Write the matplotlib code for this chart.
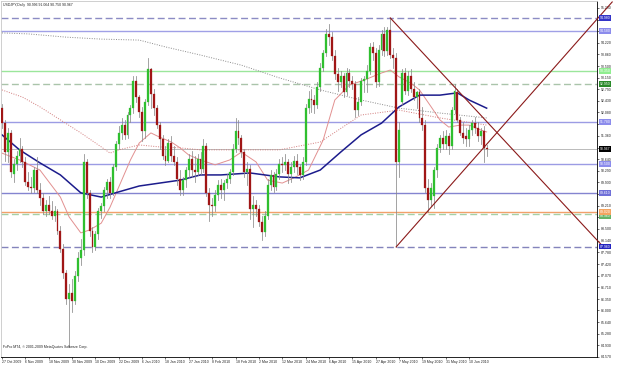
import matplotlib
matplotlib.use("Agg")
import matplotlib.pyplot as plt
import matplotlib.transforms as mtransforms
from matplotlib.patches import Rectangle

plt.rcParams['font.family'] = ['Liberation Sans', 'DejaVu Sans']

# daily bars, 27 Oct 2009 .. 18 Jun 2010 (one entry per bar)
opens = [92.20, 91.75, 90.85, 91.45, 90.20, 90.50, 90.75, 90.95, 90.55, 89.95,
         89.80, 89.75, 90.30, 89.70, 89.45, 89.05, 89.25, 89.05, 88.90, 89.05,
         88.45, 87.90, 87.15, 86.35, 86.55, 86.30, 87.05, 87.60, 87.85, 90.55,
         89.60, 88.45, 87.95, 88.35, 89.05, 89.20, 89.70, 89.95, 89.60, 90.40,
         91.10, 91.45, 91.70, 91.40, 92.00, 92.20, 93.05, 92.55, 92.10, 91.50,
         92.40, 93.40, 92.65, 92.20, 91.70, 91.25, 90.75, 90.60, 91.15, 90.75,
         90.55, 90.05, 89.70, 90.00, 90.30, 90.65, 90.30, 90.25, 90.65, 90.35,
         91.05, 89.60, 89.25, 89.20, 89.55, 89.85, 89.70, 89.90, 90.05, 90.25,
         90.95, 91.50, 91.30, 90.85, 90.25, 90.35, 89.10, 89.25, 89.10, 88.70,
         88.40, 88.90, 89.85, 90.15, 89.80, 90.20, 90.50, 90.45, 90.55, 90.20,
         90.40, 90.60, 90.40, 90.15, 90.55, 92.20, 92.50, 92.45, 92.30, 92.85,
         93.45, 93.90, 94.50, 94.40, 93.80, 93.25, 93.00, 93.20, 92.70, 93.30,
         93.05, 92.95, 92.15, 92.40, 93.05, 93.10, 93.35, 94.10, 93.90, 93.00,
         94.00, 94.50, 93.95, 94.60, 93.85, 93.75, 90.55, 92.40, 93.30, 92.75,
         93.20, 92.80, 92.55, 92.70, 91.90, 91.70, 89.75, 89.40, 89.50, 90.30,
         91.00, 91.30, 91.10, 91.35, 91.05, 92.15, 92.70, 91.85, 91.45, 91.35,
         91.25, 91.55, 91.75, 91.60, 91.35, 91.50, 90.996]
highs = [92.35, 91.85, 91.60, 91.55, 90.65, 90.90, 91.30, 91.05, 90.70, 90.25,
         90.10, 90.40, 90.70, 89.90, 89.60, 89.40, 89.50, 89.35, 89.20, 89.10,
         88.60, 88.05, 87.25, 86.80, 86.95, 87.20, 87.80, 88.20, 90.80, 90.65,
         89.70, 88.55, 88.45, 89.15, 89.30, 89.80, 90.05, 90.10, 90.50, 91.20,
         91.65, 91.90, 91.85, 92.10, 92.30, 93.20, 93.20, 92.60, 92.25, 92.50,
         93.75, 93.45, 92.80, 92.30, 91.80, 91.40, 91.05, 91.25, 91.35, 91.05,
         90.70, 90.30, 90.10, 90.40, 90.80, 90.90, 90.75, 90.80, 90.85, 91.25,
         91.15, 89.75, 89.45, 89.70, 90.00, 90.05, 90.00, 90.20, 90.35, 91.10,
         91.90, 91.85, 91.40, 90.95, 90.55, 90.45, 89.50, 89.40, 89.25, 88.90,
         89.05, 90.05, 90.30, 90.25, 90.35, 90.65, 90.70, 90.80, 90.65, 90.55,
         90.75, 90.80, 90.50, 90.70, 92.35, 92.75, 92.80, 92.60, 93.00, 93.60,
         94.00, 94.65, 94.80, 94.55, 94.00, 93.45, 93.35, 93.30, 93.45, 93.40,
         93.20, 93.05, 92.55, 93.15, 93.20, 93.55, 94.20, 94.25, 94.05, 94.15,
         94.60, 94.70, 94.70, 94.98, 94.05, 93.90, 91.80, 93.40, 93.45, 93.35,
         93.40, 93.00, 92.75, 92.80, 92.25, 91.85, 90.05, 89.90, 90.40, 91.10,
         91.40, 91.50, 91.55, 91.45, 92.25, 92.95, 92.80, 91.95, 91.80, 91.60,
         91.70, 91.85, 91.95, 91.80, 91.60, 91.65, 91.064]
lows = [91.60, 90.60, 90.55, 90.10, 89.95, 90.30, 90.55, 90.40, 89.85, 89.70,
        89.60, 89.65, 89.60, 89.25, 88.95, 88.90, 88.95, 88.80, 88.75, 88.35,
        87.80, 87.00, 86.20, 84.88, 85.95, 86.20, 86.90, 87.40, 87.70, 89.45,
        88.30, 87.80, 87.85, 88.20, 88.85, 89.05, 89.45, 89.45, 89.55, 90.30,
        90.95, 91.25, 91.25, 91.30, 91.80, 92.05, 92.40, 91.95, 91.20, 91.30,
        92.30, 92.20, 92.00, 91.60, 90.95, 90.65, 90.45, 90.55, 90.60, 90.45,
        89.85, 89.55, 89.55, 89.80, 90.10, 90.10, 89.95, 90.15, 90.20, 90.25,
        89.50, 88.75, 88.90, 89.05, 89.40, 89.45, 89.40, 89.75, 89.90, 90.15,
        90.85, 91.10, 90.70, 90.10, 89.85, 88.80, 88.55, 88.90, 88.60, 88.15,
        88.30, 88.80, 89.70, 89.65, 89.70, 90.05, 90.25, 90.30, 89.90, 89.95,
        90.25, 90.20, 90.00, 90.05, 90.45, 92.05, 92.10, 92.05, 92.20, 92.75,
        93.35, 93.80, 94.15, 93.70, 93.10, 92.75, 92.85, 92.55, 92.60, 92.85,
        92.80, 91.95, 92.00, 92.30, 92.70, 92.70, 93.25, 93.70, 92.85, 92.90,
        93.85, 93.80, 93.85, 93.75, 93.45, 87.95, 90.10, 92.30, 92.65, 92.60,
        92.70, 92.45, 92.20, 91.80, 91.55, 89.65, 89.02, 89.20, 89.15, 90.10,
        90.85, 90.95, 90.95, 90.80, 90.95, 92.05, 91.80, 91.40, 91.15, 91.05,
        91.05, 91.40, 91.45, 91.20, 91.10, 90.55, 90.750]
closes = [91.75, 90.85, 91.45, 90.25, 90.50, 90.75, 90.95, 90.55, 89.95, 89.80,
          89.75, 90.30, 89.70, 89.45, 89.05, 89.25, 89.05, 88.90, 89.05, 88.45,
          87.90, 87.15, 86.35, 86.55, 86.30, 87.05, 87.60, 87.85, 90.55, 89.60,
          88.45, 87.95, 88.35, 89.05, 89.20, 89.70, 89.95, 89.60, 90.40, 91.10,
          91.45, 91.70, 91.40, 92.00, 92.20, 93.05, 92.55, 92.10, 91.50, 92.40,
          93.40, 92.65, 92.20, 91.70, 91.25, 90.75, 90.60, 91.15, 90.75, 90.55,
          90.05, 89.70, 90.00, 90.30, 90.65, 90.30, 90.25, 90.65, 90.35, 91.05,
          89.60, 89.25, 89.20, 89.55, 89.85, 89.70, 89.90, 90.05, 90.25, 90.95,
          91.50, 91.30, 90.85, 90.25, 90.35, 89.10, 89.25, 89.10, 88.70, 88.40,
          88.90, 89.85, 90.15, 89.80, 90.20, 90.50, 90.45, 90.55, 90.20, 90.40,
          90.60, 90.40, 90.15, 90.55, 92.20, 92.50, 92.45, 92.30, 92.85, 93.45,
          93.90, 94.50, 94.40, 93.80, 93.25, 93.00, 93.20, 92.70, 93.30, 93.05,
          92.95, 92.15, 92.40, 93.05, 93.10, 93.35, 94.10, 93.90, 93.00, 94.00,
          94.50, 93.95, 94.60, 93.85, 93.75, 90.55, 91.55, 93.30, 92.75, 93.20,
          92.80, 92.55, 92.70, 91.90, 91.70, 89.75, 89.40, 89.75, 90.30, 91.00,
          91.30, 91.10, 91.35, 91.05, 92.15, 92.75, 91.85, 91.45, 91.30, 91.25,
          91.55, 91.75, 91.60, 91.35, 91.50, 91.00, 90.967]

# moving averages (bar index, price)
ma_fast_bars = [0, 6, 13, 20, 23, 27, 30, 34, 37, 40, 44, 47, 51, 54, 58, 61, 64, 68, 73, 78,
                82, 87, 91, 96, 100, 105, 110, 114, 119, 124, 130, 133, 136, 140, 143, 147,
                150, 153, 157, 160, 164, 166]
ma_fast = [90.83, 90.62, 90.31, 89.48, 88.87, 88.38, 88.47, 88.68, 89.17, 89.79, 90.62, 91.14,
           91.45, 91.32, 91.17, 90.99, 90.77, 90.62, 90.47, 90.62, 90.86, 90.56, 90.00, 89.91,
           90.07, 90.31, 91.23, 92.46, 92.92, 93.07, 93.29, 93.38, 93.17, 92.98, 92.77, 92.25,
           91.85, 91.63, 91.69, 91.69, 91.54, 91.48]
ma_blue_bars = [0, 6, 13, 20, 27, 34, 40, 47, 54, 61, 68, 75, 85, 95, 102, 109, 116, 123, 130,
                136, 143, 150, 156, 160, 166]
ma_blue = [91.39, 90.93, 90.53, 90.16, 89.61, 89.48, 89.64, 89.82, 89.91, 90.00, 90.16, 90.16,
           90.22, 90.10, 90.07, 90.31, 90.86, 91.39, 91.75, 92.25, 92.61, 92.61, 92.68, 92.46, 92.21]
ma_mid_bars = [0, 7, 13, 20, 27, 34, 37, 40, 47, 54, 61, 68, 82, 95, 109, 123, 136, 150, 166]
ma_mid = [92.77, 92.55, 92.25, 91.85, 91.45, 91.02, 90.83, 90.93, 91.08, 91.02, 90.99, 90.93,
          90.93, 90.93, 91.17, 92.00, 92.15, 91.91, 91.69]
ma_slow_bars = [0, 9, 22, 34, 47, 56, 68, 82, 95, 109, 123, 136, 150, 166]
ma_slow = [94.52, 94.49, 94.39, 94.33, 94.30, 94.09, 93.84, 93.53, 93.14, 92.77, 92.46, 92.21,
           92.06, 91.91]

# horizontal levels: price, colour, style, label box colour
levels = [94.98, 94.58, 93.35, 92.95, 91.78, 90.50, 89.61, 89.02, 88.96, 87.96]
level_colors = ['#8c8cc4', '#a0a0e6', '#9be69b', '#aac4aa', '#9c9ce4', '#9c9ce4', '#8484d0',
                '#f2a06a', '#a6d0a6', '#8484bc']
level_styles = ['--', '-', '-', '--', '-', '-', '-', '-', '--', '--']
level_box = ['#3434c8', '#8c8cec', '#90ee90', '#2a8a2a', '#8c8cec', '#8c8cec', '#7070d8',
             '#f4a460', '#66b366', '#2424c0']
bid = 90.967

# trend lines (bar, price) -> (bar, price)
trend_lines = [((133, 94.98), (206.5, 87.90)), ((135, 87.95), (209, 95.47))]

tick_labels = ['84.570', '84.930', '85.280', '85.640', '86.000', '86.350', '86.710', '87.070',
               '87.420', '87.780', '88.140', '88.500', '88.860', '89.210', '89.570', '89.930',
               '90.290', '90.640', '91.000', '91.360', '91.720', '92.080', '92.430', '92.790',
               '93.150', '93.500', '93.860', '94.220', '94.580', '94.930', '95.290']
date_labels = ['27 Oct 2009', '6 Nov 2009', '18 Nov 2009', '30 Nov 2009', '10 Dec 2009',
               '22 Dec 2009', '6 Jan 2010', '18 Jan 2010', '27 Jan 2010', '8 Feb 2010',
               '18 Feb 2010', '2 Mar 2010', '12 Mar 2010', '24 Mar 2010', '6 Apr 2010',
               '15 Apr 2010', '27 Apr 2010', '7 May 2010', '19 May 2010', '31 May 2010',
               '10 Jun 2010']
date_bars = list(range(0, 161, 8))

fs = 2.5
fig = plt.figure(figsize=(6.25, 3.65), dpi=100)
ax = fig.add_axes([0.0016, 8 / 365, 596 / 625, 356 / 365])
ax.set_xlim(-0.34, 203.8)
ax.set_ylim(84.57, 95.50)

for lv, c, ls in zip(levels, level_colors, level_styles):
    ax.axhline(lv, color=c, ls=ls, lw=1.0, dashes=(5, 2.5) if ls == '--' else (None, None), zorder=1)
ax.axhline(bid, color='#b0b0b0', lw=0.6, zorder=1)

ax.plot(ma_slow_bars, ma_slow, color='#8c8c8c', lw=0.7, ls=(0, (1, 1.5)), zorder=2)
ax.plot(ma_mid_bars, ma_mid, color='#d27c7c', lw=0.7, ls=(0, (1, 1.5)), zorder=2)
ax.plot(ma_fast_bars, ma_fast, color='#e29090', lw=0.7, zorder=2)
ax.plot(ma_blue_bars, ma_blue, color='#1c1c8c', lw=1.1, zorder=2)

w = 0.66
for i, (o, h, l, c) in enumerate(zip(opens, highs, lows, closes)):
    ax.plot([i, i], [l, h], color='#8a8a8a', lw=0.55, zorder=3)
    col = '#2fbf2f' if c >= o else '#a01616'
    ax.add_patch(Rectangle((i - w / 2, min(o, c)), w, max(abs(c - o), 0.02),
                           facecolor=col, edgecolor=col, lw=0.2, zorder=4))

for (b0, p0), (b1, p1) in trend_lines:
    ax.plot([b0, b1], [p0, p1], color='#8b1a1a', lw=0.8, zorder=5, clip_on=False)

# price labels that sit under a level box are hidden, as on the terminal
box_prices = levels + [bid]
shown = [t if all(abs(float(t) - b) > 0.13 for b in box_prices) else '' for t in tick_labels]

ax.yaxis.tick_right()
ax.set_yticks([float(t) for t in tick_labels])
ax.set_yticklabels(shown, fontsize=fs, color='#222222')
ax.set_xticks(date_bars)
ax.set_xticklabels(date_labels, fontsize=fs, ha='left', color='#222222')
ax.tick_params(axis='y', length=1.5, width=0.4, pad=1.2)
ax.tick_params(axis='x', length=1.5, width=0.4, pad=0.6)
for s in ['right', 'bottom']:
    ax.spines[s].set_color('black')
    ax.spines[s].set_linewidth(0.6)
for s in ['top', 'left']:
    ax.spines[s].set_color('#c8c8c8')
    ax.spines[s].set_linewidth(0.6)

tr = mtransforms.blended_transform_factory(ax.transAxes, ax.transData)
for lv, bc in zip(levels, level_box):
    # the two boxes near 89 sit on top of each other in the original; nudge the lower one
    ypos = lv - 0.06 if lv == 88.96 else lv
    ax.text(1.004, ypos, f'{lv:.3f}', transform=tr, fontsize=fs, color='white', va='center',
            ha='left', zorder=10 if lv != 88.96 else 9,
            bbox=dict(boxstyle='square,pad=0.25', fc=bc, ec='none'))
ax.text(1.004, bid, f'{bid:.3f}', transform=tr, fontsize=fs, color='white', va='center',
        ha='left', zorder=10, bbox=dict(boxstyle='square,pad=0.25', fc='black', ec='none'))

ax.text(0.004, 0.993, 'USDJPY,Daily  90.996 91.064 90.750 90.967', transform=ax.transAxes,
        fontsize=fs, va='top', ha='left', color='#222222')
ax.text(0.004, 0.022, 'FxPro MT4, \u00a9 2001-2009 MetaQuotes Software Corp.',
        transform=ax.transAxes, fontsize=fs, va='bottom', ha='left', color='#222222')

fig.savefig('out.png', dpi=100, facecolor='white')
